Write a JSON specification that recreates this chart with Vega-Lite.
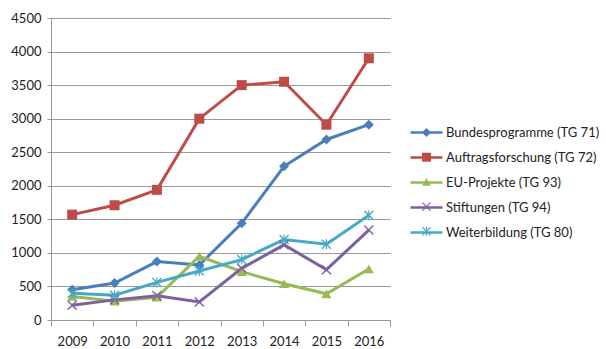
{
  "$schema": "https://vega.github.io/schema/vega-lite/v6.json",
  "autosize": {"type": "none"},
  "width": 339,
  "height": 302,
  "padding": {"left": 51, "top": 18, "right": 216, "bottom": 29},
  "background": "white",
  "config": {
    "view": {"stroke": null},
    "font": "Lato",
    "axis": {"labelFont": "Lato", "labelFontSize": 13, "labelColor": "#222", "domainColor": "#999", "tickColor": "#999", "gridColor": "#999", "title": null},
    "legend": {"labelFont": "Lato", "labelFontSize": 13, "labelColor": "#222"}
  },
  "data": {
    "values": [
      {"year": "2009", "series": "Bundesprogramme (TG 71)", "value": 450},
      {"year": "2010", "series": "Bundesprogramme (TG 71)", "value": 550},
      {"year": "2011", "series": "Bundesprogramme (TG 71)", "value": 870},
      {"year": "2012", "series": "Bundesprogramme (TG 71)", "value": 820},
      {"year": "2013", "series": "Bundesprogramme (TG 71)", "value": 1440},
      {"year": "2014", "series": "Bundesprogramme (TG 71)", "value": 2290},
      {"year": "2015", "series": "Bundesprogramme (TG 71)", "value": 2690},
      {"year": "2016", "series": "Bundesprogramme (TG 71)", "value": 2910},
      {"year": "2009", "series": "Auftragsforschung (TG 72)", "value": 1570},
      {"year": "2010", "series": "Auftragsforschung (TG 72)", "value": 1710},
      {"year": "2011", "series": "Auftragsforschung (TG 72)", "value": 1940},
      {"year": "2012", "series": "Auftragsforschung (TG 72)", "value": 3000},
      {"year": "2013", "series": "Auftragsforschung (TG 72)", "value": 3500},
      {"year": "2014", "series": "Auftragsforschung (TG 72)", "value": 3550},
      {"year": "2015", "series": "Auftragsforschung (TG 72)", "value": 2910},
      {"year": "2016", "series": "Auftragsforschung (TG 72)", "value": 3900},
      {"year": "2009", "series": "EU-Projekte (TG 93)", "value": 350},
      {"year": "2010", "series": "EU-Projekte (TG 93)", "value": 280},
      {"year": "2011", "series": "EU-Projekte (TG 93)", "value": 340},
      {"year": "2012", "series": "EU-Projekte (TG 93)", "value": 950},
      {"year": "2013", "series": "EU-Projekte (TG 93)", "value": 720},
      {"year": "2014", "series": "EU-Projekte (TG 93)", "value": 540},
      {"year": "2015", "series": "EU-Projekte (TG 93)", "value": 390},
      {"year": "2016", "series": "EU-Projekte (TG 93)", "value": 760},
      {"year": "2009", "series": "Stiftungen (TG 94)", "value": 220},
      {"year": "2010", "series": "Stiftungen (TG 94)", "value": 300},
      {"year": "2011", "series": "Stiftungen (TG 94)", "value": 360},
      {"year": "2012", "series": "Stiftungen (TG 94)", "value": 270},
      {"year": "2013", "series": "Stiftungen (TG 94)", "value": 770},
      {"year": "2014", "series": "Stiftungen (TG 94)", "value": 1120},
      {"year": "2015", "series": "Stiftungen (TG 94)", "value": 750},
      {"year": "2016", "series": "Stiftungen (TG 94)", "value": 1340},
      {"year": "2009", "series": "Weiterbildung (TG 80)", "value": 400},
      {"year": "2010", "series": "Weiterbildung (TG 80)", "value": 370},
      {"year": "2011", "series": "Weiterbildung (TG 80)", "value": 560},
      {"year": "2012", "series": "Weiterbildung (TG 80)", "value": 730},
      {"year": "2013", "series": "Weiterbildung (TG 80)", "value": 900},
      {"year": "2014", "series": "Weiterbildung (TG 80)", "value": 1200},
      {"year": "2015", "series": "Weiterbildung (TG 80)", "value": 1130},
      {"year": "2016", "series": "Weiterbildung (TG 80)", "value": 1560}
    ]
  },
  "encoding": {
    "x": {
      "field": "year", "type": "nominal",
      "scale": {"type": "band", "paddingInner": 0, "paddingOuter": 0},
      "axis": {"labelAngle": 0, "tickBand": "extent", "tickSize": 6, "labelPadding": 9, "grid": false, "domainWidth": 1}
    },
    "y": {
      "field": "value", "type": "quantitative",
      "scale": {"domain": [0, 4500], "nice": false},
      "axis": {"values": [0, 500, 1000, 1500, 2000, 2500, 3000, 3500, 4000, 4500], "format": "d", "tickSize": 4, "labelPadding": 6, "grid": true, "gridWidth": 1}
    }
  },
  "layer": [
    {
      "mark": {"type": "line", "strokeWidth": 3},
      "encoding": {
        "stroke": {
          "field": "series", "type": "nominal",
          "scale": {
            "domain": ["Bundesprogramme (TG 71)", "Auftragsforschung (TG 72)", "EU-Projekte (TG 93)", "Stiftungen (TG 94)", "Weiterbildung (TG 80)"],
            "range": ["#4a7ebb", "#be4b48", "#98b954", "#7d60a0", "#46aac5"]
          },
          "legend": {
            "orient": "none", "legendX": 369, "legendY": 108, "title": null, "padding": 0,
            "symbolType": "M-3.2,0L3.2,0", "symbolSize": 100, "symbolStrokeWidth": 2.5,
            "labelOffset": 13, "rowPadding": 11, "zindex": 1
          }
        }
      }
    },
    {
      "mark": {"type": "point", "filled": true, "opacity": 1, "size": 100},
      "encoding": {
        "color": {
          "field": "series", "type": "nominal",
          "scale": {
            "domain": ["Bundesprogramme (TG 71)", "Auftragsforschung (TG 72)", "EU-Projekte (TG 93)", "Stiftungen (TG 94)", "Weiterbildung (TG 80)"],
            "range": ["#4a7ebb", "#be4b48", "#98b954", "#7d60a0", "#46aac5"]
          },
          "legend": null
        },
        "shape": {
          "field": "series", "type": "nominal",
          "sort": ["Bundesprogramme (TG 71)", "Auftragsforschung (TG 72)", "EU-Projekte (TG 93)", "Stiftungen (TG 94)", "Weiterbildung (TG 80)"],
          "scale": {
            "range": [
              "diamond", "square", "triangle-up",
              "M-1,-0.8L-0.8,-1L0,-0.2L0.8,-1L1,-0.8L0.2,0L1,0.8L0.8,1L0,0.2L-0.8,1L-1,0.8L-0.2,0Z",
              "M-1,-0.8L-0.8,-1L0,-0.2L0.8,-1L1,-0.8L0.2,0L1,0.8L0.8,1L0,0.2L-0.8,1L-1,0.8L-0.2,0ZM-0.12,-1L0.12,-1L0.12,1L-0.12,1Z"
            ]
          },
          "legend": {
            "orient": "none", "legendX": 369, "legendY": 108, "title": null, "padding": 0,
            "symbolSize": 80, "symbolOpacity": 1,
            "labelOffset": 13, "rowPadding": 9.7, "labelOpacity": 0, "zindex": 2,
            "encoding": {"symbols": {"fill": {"value": {"expr": "scale('color', datum.value)"}}, "opacity": {"value": 1}}}
          }
        }
      }
    }
  ]
}
